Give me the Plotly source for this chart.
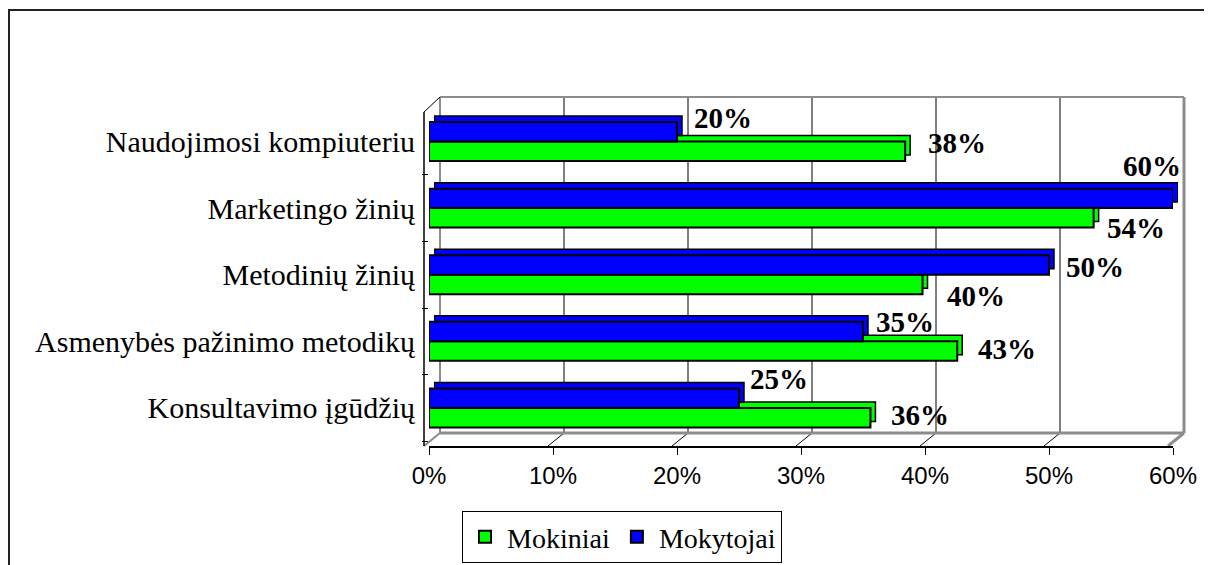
import plotly.graph_objects as go

# ---- data ----
categories = ["Konsultavimo įgūdžių", "Asmenybės pažinimo metodikų", "Metodinių žinių",
              "Marketingo žinių", "Naudojimosi kompiuteriu"]
mokiniai = [35.6, 42.6, 39.8, 53.6, 38.4]
mokytojai = [25, 35, 50, 60, 20]
x_ticks = [0, 10, 20, 30, 40, 50, 60]
x_tick_labels = ["0%", "10%", "20%", "30%", "40%", "50%", "60%"]

# ---- style offsets for value labels (pixels) ----
mokiniai_dx = [19, 19, 22, 11, 21]
mokiniai_dy = [3, 2.5, -11.5, -10, 8]
mokytojai_dx = [9, 11, 15, -52, 15]
mokytojai_dy = [19, 10, -2.5, 32.5, 13.5]

W, H = 1212, 565
OFF = 8  # page body margin
def px(x):
    return (x - OFF) / W
def py(y):
    return 1 - (y - OFF) / H

GREEN = "#00FF00"
BLUE = "#0000FF"
SERIF = "Liberation Serif, Times New Roman, serif"
SANS = "Liberation Sans, Arial, sans-serif"

fig = go.Figure()

# depth copies (drawn first, shifted subplot)
for vals, col in [(mokiniai, GREEN), (mokytojai, BLUE)]:
    fig.add_trace(go.Bar(y=categories, x=vals, orientation="h", xaxis="x", yaxis="y",
                         marker=dict(color=col, line=dict(color="black", width=1.5)),
                         showlegend=False, hoverinfo="skip"))
# front bars
fig.add_trace(go.Bar(y=categories, x=mokiniai, orientation="h", name="Mokiniai", xaxis="x2", yaxis="y2",
                     marker=dict(color=GREEN, line=dict(color="black", width=2))))
fig.add_trace(go.Bar(y=categories, x=mokytojai, orientation="h", name="Mokytojai", xaxis="x2", yaxis="y2",
                     marker=dict(color=BLUE, line=dict(color="black", width=2))))

yrange = [-0.571, 4.443]
xrange = [0, 60]
fig.update_layout(
    width=W, height=H,
    margin=dict(l=0, r=0, t=0, b=0, autoexpand=False),
    paper_bgcolor="white", plot_bgcolor="rgba(0,0,0,0)",
    barmode="group", bargap=0.415, bargroupgap=0,
    xaxis=dict(domain=[px(434), px(1178)], range=xrange, anchor="y", visible=False),
    yaxis=dict(domain=[py(440), py(106)], range=yrange, anchor="x", visible=False, type="category",
               categoryorder="array", categoryarray=categories),
    xaxis2=dict(domain=[px(429), px(1173)], range=xrange, anchor="y2", showgrid=False, zeroline=False,
                showline=True, linecolor="black", linewidth=1.5, ticks="outside", ticklen=7,
                tickcolor="black", tickmode="array", tickvals=x_ticks, ticktext=x_tick_labels,
                ticklabelstandoff=0, tickfont=dict(family=SANS, size=24, color="black")),
    yaxis2=dict(domain=[py(446), py(112)], range=yrange, anchor="x2", type="category",
                categoryorder="array", categoryarray=categories, showgrid=False, showline=False,
                ticks="outside", ticklen=6, tickcolor="black", tickson="boundaries",
                ticklabelstandoff=13, tickfont=dict(family=SERIF, size=30, color="black")),
    legend=dict(orientation="h", x=px(462), y=py(563), xanchor="left", yanchor="bottom",
                bordercolor="black", borderwidth=1, bgcolor="white",
                font=dict(family=SERIF, size=28, color="black"), traceorder="normal",
                itemwidth=34, tracegroupgap=0),
    showlegend=True,
)

shapes = []
def line(x0, y0, x1, y1, color, width):
    shapes.append(dict(type="line", xref="paper", yref="paper", x0=px(x0), y0=py(y0),
                       x1=px(x1), y1=py(y1), line=dict(color=color, width=width), layer="below"))

GRAY = "#8c8c8c"
step = (1184 - 440) / (len(x_ticks) - 1)
for k in range(1, len(x_ticks) - 1):
    xb = 440 + step * k
    xf = 424 + step * k
    line(xb, 97, xb, 433, "black", 1)
    line(xf, 446, xb, 433, "black", 1)
line(440, 97, 1184, 97, GRAY, 2)
line(440, 97, 440, 433, GRAY, 2)
line(1184, 97, 1184, 433, GRAY, 3)
line(440, 433, 1184, 433, GRAY, 3)
line(424, 446, 440, 433, GRAY, 2)
line(1168, 446, 1184, 433, GRAY, 3)
line(424, 112, 440, 97, "black", 1)
line(424, 112, 424, 446, "black", 1.5)
# outer frame
shapes.append(dict(type="rect", xref="paper", yref="paper", x0=px(9), y0=py(580), x1=px(1210), y1=py(10),
                   line=dict(color="#222222", width=2), layer="below"))
fig.update_layout(shapes=shapes)

anns = []
for i, cat in enumerate(categories):
    anns.append(dict(x=mokiniai[i], y=cat, xref="x2", yref="y2", text=f"<b>{round(mokiniai[i])}%</b>",
                     showarrow=False, xanchor="left", yanchor="middle", xshift=mokiniai_dx[i],
                     yshift=-9.75 + mokiniai_dy[i], font=dict(family=SERIF, size=29, color="black")))
    anns.append(dict(x=mokytojai[i], y=cat, xref="x2", yref="y2", text=f"<b>{round(mokytojai[i])}%</b>",
                     showarrow=False, xanchor="left", yanchor="middle", xshift=mokytojai_dx[i],
                     yshift=9.75 + mokytojai_dy[i], font=dict(family=SERIF, size=29, color="black")))
fig.update_layout(annotations=anns)

fig.write_html("out.html")
